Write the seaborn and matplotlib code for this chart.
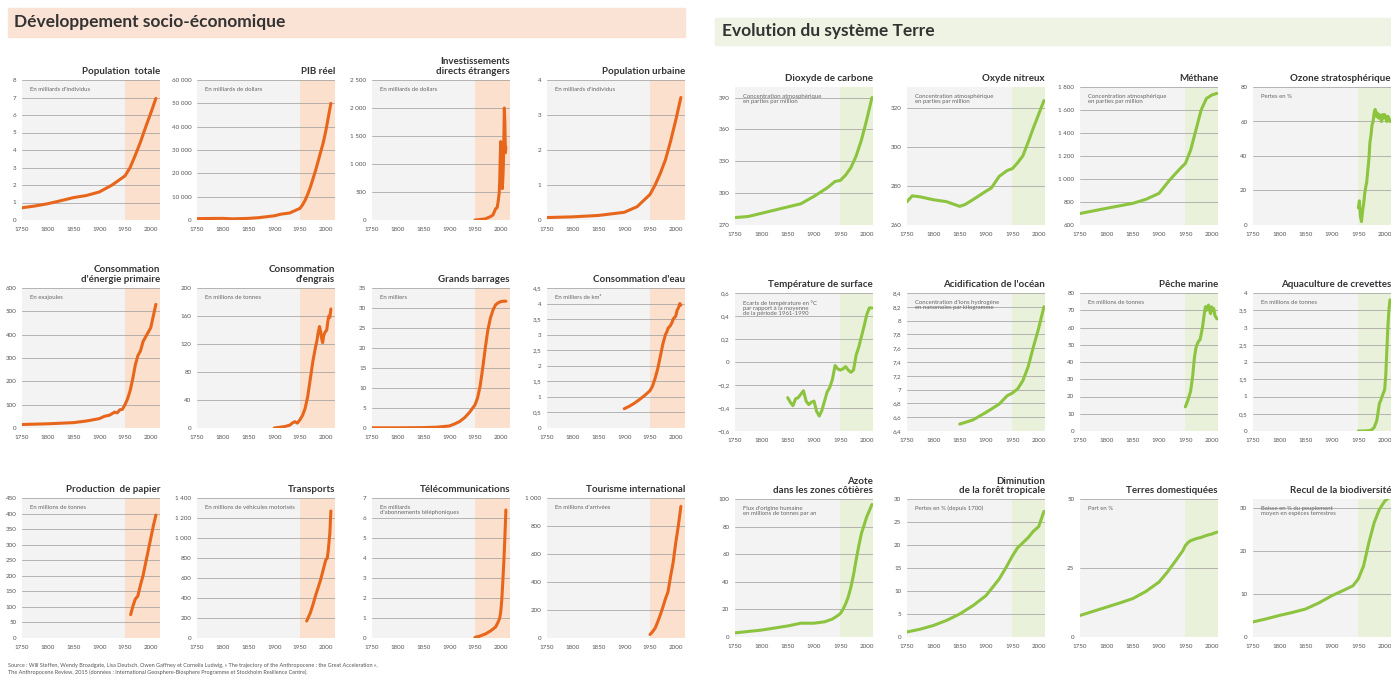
import matplotlib
matplotlib.use("Agg")
import matplotlib.pyplot as plt
import seaborn as sns
import pandas as pd

# ---- data ----
pop_years = [1750, 1775, 1800, 1825, 1850, 1875, 1900, 1925, 1950, 1960, 1970, 1980, 1990, 2000, 2010]
pop_vals = [0.7, 0.8, 0.93, 1.1, 1.28, 1.4, 1.6, 2.0, 2.52, 3.0, 3.7, 4.45, 5.3, 6.1, 6.95]

gdp_years = [1750, 1800, 1820, 1850, 1870, 1900, 1913, 1930, 1940, 1950, 1955, 1960, 1965, 1970, 1975, 1980, 1985, 1990, 1995, 2000, 2005, 2010]
gdp_vals = [600, 700, 500, 700, 1000, 1800, 2500, 3000, 4000, 5000, 6500, 8500, 11000, 14000, 17500, 21000, 25000, 29000, 33000, 38000, 44000, 50000]

fdi_years = [1950, 1960, 1970, 1975, 1980, 1985, 1990, 1993, 1995, 1997, 1998, 1999, 2000, 2001, 2002, 2003, 2004, 2005, 2006, 2007, 2008, 2009, 2010]
fdi_vals = [0, 10, 20, 40, 60, 90, 200, 220, 330, 480, 700, 1100, 1400, 800, 600, 560, 720, 950, 1400, 2000, 1750, 1200, 1300]

urb_years = [1750, 1800, 1850, 1900, 1925, 1950, 1960, 1970, 1980, 1990, 2000, 2010]
urb_vals = [0.07, 0.09, 0.13, 0.22, 0.38, 0.73, 1.0, 1.33, 1.72, 2.25, 2.85, 3.5]

energy_years = [1750, 1800, 1850, 1875, 1900, 1910, 1920, 1930, 1935, 1940, 1945, 1950, 1955, 1960, 1965, 1970, 1975, 1980, 1985, 1990, 1995, 2000, 2005, 2010]
energy_vals = [15, 18, 23, 30, 40, 50, 55, 68, 65, 78, 80, 100, 125, 160, 210, 270, 310, 330, 370, 390, 410, 430, 480, 530]

fert_years = [1900, 1910, 1920, 1930, 1935, 1940, 1945, 1950, 1955, 1960, 1965, 1970, 1975, 1980, 1983, 1985, 1988, 1990, 1992, 1994, 1996, 1998, 2000, 2002, 2004, 2006, 2008, 2010]
fert_vals = [0, 1, 2, 4, 7, 9, 7, 12, 18, 28, 45, 70, 95, 115, 125, 135, 145, 138, 128, 122, 132, 136, 138, 140, 152, 160, 158, 170]

dam_years = [1750, 1800, 1850, 1875, 1900, 1910, 1920, 1930, 1940, 1950, 1955, 1960, 1965, 1970, 1975, 1980, 1985, 1990, 1995, 2000, 2005, 2010]
dam_vals = [0.05, 0.05, 0.1, 0.2, 0.5, 1.0, 1.6, 2.6, 4.0, 5.8, 7.5, 10.5, 15, 20, 24.5, 27.5, 29.5, 30.8, 31.3, 31.6, 31.7, 31.7]

water_years = [1900, 1910, 1920, 1930, 1940, 1950, 1955, 1960, 1965, 1970, 1975, 1980, 1983, 1985, 1990, 1993, 1995, 2000, 2003, 2005, 2008, 2010]
water_vals = [0.62, 0.7, 0.8, 0.92, 1.05, 1.2, 1.35, 1.6, 1.9, 2.3, 2.7, 3.0, 3.1, 3.2, 3.3, 3.4, 3.5, 3.6, 3.8, 3.85, 4.0, 3.95]

paper_years = [1961, 1965, 1970, 1975, 1980, 1985, 1990, 1995, 2000, 2005, 2010]
paper_vals = [75, 100, 125, 135, 170, 200, 240, 280, 320, 360, 395]

trans_years = [1963, 1970, 1975, 1980, 1985, 1990, 1995, 2000, 2003, 2005, 2008, 2010]
trans_vals = [170, 250, 330, 420, 500, 580, 680, 780, 800, 880, 1050, 1270]

tel_years = [1950, 1960, 1970, 1980, 1985, 1990, 1995, 1998, 2000, 2002, 2004, 2006, 2008, 2010]
tel_vals = [0.03, 0.1, 0.2, 0.35, 0.45, 0.55, 0.8, 1.0, 1.3, 1.9, 2.8, 3.8, 5.0, 6.4]

tour_years = [1950, 1955, 1960, 1965, 1970, 1975, 1980, 1985, 1990, 1995, 2000, 2005, 2010]
tour_vals = [25, 45, 70, 115, 165, 220, 280, 330, 440, 540, 680, 800, 940]

co2_years = [1750, 1775, 1800, 1825, 1850, 1875, 1900, 1925, 1940, 1950, 1960, 1970, 1980, 1990, 2000, 2010]
co2_vals = [277, 278, 281, 284, 287, 290, 297, 305, 311, 312, 317, 324, 335, 350, 369, 390]

n2o_years = [1750, 1760, 1775, 1800, 1825, 1850, 1860, 1875, 1900, 1910, 1925, 1940, 1950, 1960, 1970, 1980, 1990, 2000, 2010]
n2o_vals = [272, 275, 274.5, 273, 272, 269.6, 270.5, 273, 277.4, 279, 285, 288, 289, 292, 295.6, 302.6, 310, 317, 324]

ch4_years = [1750, 1800, 1850, 1875, 1900, 1920, 1940, 1950, 1960, 1970, 1980, 1990, 2000, 2010]
ch4_vals = [700, 745, 788, 823, 875, 990, 1090, 1135, 1250, 1425, 1600, 1700, 1730, 1745]

oz_years = [1950, 1952, 1954, 1956, 1958, 1960, 1962, 1964, 1966, 1968, 1970, 1972, 1974, 1976, 1978, 1980, 1982, 1984, 1986, 1988, 1990, 1992, 1994, 1996, 1998, 2000, 2002, 2004, 2006, 2008, 2010]
oz_vals = [10, 14, 5, 2, 8, 12, 18, 22, 25, 32, 38, 48, 52, 58, 60, 65, 67, 63, 65, 62, 64, 62, 60, 64, 62, 64, 62, 60, 63, 62, 60]

temp_years = [1850, 1855, 1860, 1865, 1870, 1875, 1880, 1885, 1890, 1895, 1900, 1905, 1910, 1915, 1920, 1925, 1930, 1935, 1940, 1945, 1950, 1955, 1960, 1965, 1970, 1975, 1980, 1985, 1990, 1995, 2000, 2005, 2010]
temp_vals = [-0.31, -0.35, -0.38, -0.32, -0.31, -0.28, -0.25, -0.34, -0.37, -0.35, -0.34, -0.43, -0.47, -0.42, -0.34, -0.26, -0.22, -0.15, -0.03, -0.06, -0.07, -0.06, -0.04, -0.07, -0.09, -0.07, 0.06, 0.13, 0.22, 0.31, 0.41, 0.47, 0.47]

acid_years = [1850, 1875, 1900, 1925, 1940, 1950, 1960, 1970, 1980, 1990, 2000, 2010]
acid_vals = [6.5, 6.56, 6.67, 6.79, 6.91, 6.95, 7.01, 7.13, 7.33, 7.62, 7.89, 8.2]

fish_years = [1950, 1955, 1960, 1964, 1967, 1970, 1972, 1975, 1978, 1980, 1983, 1986, 1988, 1990, 1992, 1994, 1996, 1998, 2000, 2002, 2004, 2006, 2008, 2010]
fish_vals = [14, 18, 23, 32, 42, 48, 50, 52, 53, 56, 61, 68, 72, 70, 72, 73, 70, 68, 72, 70, 71, 67, 66, 65]

shrimp_years = [1950, 1960, 1970, 1975, 1980, 1985, 1988, 1990, 1993, 1995, 2000, 2002, 2004, 2006, 2008, 2010]
shrimp_vals = [0, 0, 0.01, 0.03, 0.1, 0.3, 0.6, 0.8, 0.9, 1.0, 1.2, 1.6, 2.3, 3.0, 3.5, 3.8]

nitro_years = [1750, 1800, 1850, 1875, 1900, 1920, 1935, 1945, 1950, 1955, 1960, 1965, 1970, 1975, 1980, 1985, 1990, 2000, 2010]
nitro_vals = [3, 5, 8, 10, 10, 11, 13, 15.5, 17, 20, 24, 29, 36, 45, 56, 66, 75, 87, 96]

forest_years = [1750, 1775, 1800, 1825, 1850, 1875, 1900, 1925, 1940, 1950, 1960, 1970, 1980, 1990, 2000, 2010]
forest_vals = [1.1, 1.7, 2.5, 3.6, 5.0, 6.8, 9.0, 12.6, 15.5, 17.6, 19.4, 20.5, 21.6, 23.0, 24.0, 27.3]

land_years = [1750, 1775, 1800, 1825, 1850, 1875, 1900, 1915, 1930, 1945, 1950, 1955, 1960, 1970, 1980, 1990, 2000, 2010]
land_vals = [7.8, 9.3, 10.8, 12.3, 13.9, 16.5, 19.9, 23.3, 27.2, 31.2, 33.1, 34.2, 34.9, 35.6, 36.1, 36.8, 37.3, 38.0]

bio_years = [1750, 1775, 1800, 1825, 1850, 1875, 1900, 1925, 1940, 1950, 1960, 1970, 1980, 1990, 2000, 2010]
bio_vals = [3.5, 4.2, 5.0, 5.7, 6.5, 7.9, 9.6, 11.0, 11.9, 13.5, 16.5, 21.9, 26.5, 29.6, 31.5, 32.5]

left_titles = ["Population  totale", "PIB réel", "Investissements\ndirects étrangers", "Population urbaine",
               "Consommation\nd'énergie primaire", "Consommation\nd'engrais", "Grands barrages", "Consommation d'eau",
               "Production  de papier", "Transports", "Télécommunications", "Tourisme international"]
left_subs = ["En milliards d'individus", "En milliards de dollars", "En milliards de dollars", "En milliards d'individus",
             "En exajoules", "En millions de tonnes", "En milliers", "En milliers de km³",
             "En millions de tonnes", "En millions de véhicules motorisés",
             "En milliards\nd'abonnements téléphoniques", "En millions d'arrivées"]
left_series = [(pop_years, pop_vals), (gdp_years, gdp_vals), (fdi_years, fdi_vals), (urb_years, urb_vals),
               (energy_years, energy_vals), (fert_years, fert_vals), (dam_years, dam_vals), (water_years, water_vals),
               (paper_years, paper_vals), (trans_years, trans_vals), (tel_years, tel_vals), (tour_years, tour_vals)]
left_ticks = [list(range(0, 9)), list(range(0, 60001, 10000)), list(range(0, 2501, 500)), [0, 1, 2, 3, 4],
              list(range(0, 601, 100)), [0, 40, 80, 120, 160, 200], list(range(0, 36, 5)), [i * 0.5 for i in range(10)],
              list(range(0, 451, 50)), list(range(0, 1401, 200)), list(range(0, 8)), list(range(0, 1001, 200))]

right_titles = ["Dioxyde de carbone", "Oxyde nitreux", "Méthane", "Ozone stratosphérique",
                "Température de surface", "Acidification de l'océan", "Pêche marine", "Aquaculture de crevettes",
                "Azote\ndans les zones côtières", "Diminution\nde la forêt tropicale", "Terres domestiquées",
                "Recul de la biodiversité"]
right_subs = ["Concentration atmosphérique\nen parties par million", "Concentration atmosphérique\nen parties par million",
              "Concentration atmosphérique\nen parties par million", "Pertes en %",
              "Ecarts de température en °C\npar rapport à la moyenne\nde la période 1961-1990",
              "Concentration d'ions hydrogène\nen nanomoles par kilogramme", "En millions de tonnes", "En millions de tonnes",
              "Flux d'origine humaine\nen millions de tonnes par an", "Pertes en % (depuis 1700)", "Part en %",
              "Baisse en % du peuplement\nmoyen en espèces terrestres"]
right_series = [(co2_years, co2_vals), (n2o_years, n2o_vals), (ch4_years, ch4_vals), (oz_years, oz_vals),
                (temp_years, temp_vals), (acid_years, acid_vals), (fish_years, fish_vals), (shrimp_years, shrimp_vals),
                (nitro_years, nitro_vals), (forest_years, forest_vals), (land_years, land_vals), (bio_years, bio_vals)]
right_ticks = [[270, 300, 330, 360, 390], [260, 280, 300, 320], list(range(600, 1801, 200)), [0, 20, 40, 60, 80],
               [-0.6, -0.4, -0.2, 0, 0.2, 0.4, 0.6], [6.4, 6.6, 6.8, 7, 7.2, 7.4, 7.6, 7.8, 8, 8.2, 8.4],
               list(range(0, 81, 10)), [i * 0.5 for i in range(9)],
               [0, 20, 40, 60, 80, 100], [0, 5, 10, 15, 20, 25, 30], [0, 25, 50], [0, 10, 20, 30]]
right_ylims = [(270, 400), (260, 331), (600, 1800), (0, 80), (-0.6, 0.6), (6.4, 8.4), (0, 80), (0, 4),
               (0, 100), (0, 30), (0, 50), (0, 32)]

source_text = ("Source : Will Steffen, Wendy Broadgate, Lisa Deutsch, Owen Gaffney et Cornelia Ludwig, « The trajectory of the Anthropocene : the Great Acceleration »,\n"
               "The Anthropocene Review, 2015 (données : International Geosphere-Biosphere Programme et Stockholm Resilience Centre).")

# ---- style ----
sns.set_theme(style="white")
plt.rcParams["font.family"] = ["Lato", "DejaVu Sans"]

ORANGE = "#e8661c"
GREEN = "#8cc43f"
BG = "#f3f3f3"
PEACH = "#fbe0cd"
LIGHTGREEN = "#e9f1db"
GRID = "#9a9a9a"

W, H = 1391, 679
fig = plt.figure(figsize=(W / 100, H / 100), dpi=100)


def px_axes(x, y, w, h):
    return fig.add_axes([x / W, 1 - (y + h) / H, w / W, h / H])


def fr(v):
    if abs(v - round(v)) < 1e-9:
        s = f"{int(round(v)):,}".replace(",", " ")
    else:
        s = f"{v:g}".replace(".", ",")
    return s.replace("-", "−")


def small_chart(ax, title, sub, years, vals, ticks, ylim, color, shade, xlim):
    ax.set_facecolor(BG)
    ax.axvspan(1950, xlim[1], color=shade, lw=0, zorder=0)
    for t in ticks:
        ax.axhline(t, color=GRID, lw=0.5, zorder=1)
    df = pd.DataFrame({"Année": years, "Valeur": vals})
    sns.lineplot(data=df, x="Année", y="Valeur", ax=ax, color=color, lw=2.2, zorder=3)
    ax.set_xlim(*xlim)
    ax.set_ylim(*ylim)
    ax.set_xticks(range(1750, 2001, 50))
    ax.set_yticks(ticks)
    ax.set_yticklabels([fr(t) for t in ticks])
    ax.tick_params(labelsize=4.5, colors="#555555", length=2, width=0.5, pad=2)
    ax.tick_params(axis="x", pad=3)
    for s in ax.spines.values():
        s.set_visible(False)
    ax.set_xlabel("")
    ax.set_ylabel("")
    ax.text(1.0, 1.03, title, transform=ax.transAxes, ha="right", va="bottom",
            fontsize=7, fontweight="bold", color="#333333", multialignment="right", linespacing=1.05)
    ax.text(0.06, 0.95, sub, transform=ax.transAxes, ha="left", va="top",
            fontsize=4.3, color="#666666", linespacing=1.05, zorder=4)


# headers
fig.patches.append(plt.Rectangle((8 / W, 1 - 37 / H), 677 / W, 29 / H, transform=fig.transFigure,
                                 color="#fae3d5", zorder=0))
fig.text(14 / W, 1 - 22 / H, "Développement socio-économique", fontsize=12.5, fontweight="bold",
         color="#333333", va="center", ha="left")
fig.patches.append(plt.Rectangle((715 / W, 1 - 45 / H), 676 / W, 27 / H, transform=fig.transFigure,
                                 color="#eef3e3", zorder=0))
fig.text(722 / W, 1 - 31 / H, "Evolution du système Terre", fontsize=12.5, fontweight="bold",
         color="#333333", va="center", ha="left")

left_x = [22, 197, 372, 547]
left_top = [80, 288, 498]
for i in range(12):
    row, col = divmod(i, 4)
    ax = px_axes(left_x[col], left_top[row], 138, 140)
    ticks = left_ticks[i]
    small_chart(ax, left_titles[i], left_subs[i], *left_series[i], ticks, (ticks[0], ticks[-1]),
                ORANGE, PEACH, (1750, 2018))

right_x = [735, 907, 1080, 1253]
right_top = [87, 293, 499]
for i in range(12):
    row, col = divmod(i, 4)
    ax = px_axes(right_x[col], right_top[row], 138, 138)
    small_chart(ax, right_titles[i], right_subs[i], *right_series[i], right_ticks[i], right_ylims[i],
                GREEN, LIGHTGREEN, (1750, 2012))

fig.text(8 / W, 1 - 669 / H, source_text, fontsize=4, color="#555555", va="center", ha="left", linespacing=1.3)

fig.savefig("out.png", dpi=100)
